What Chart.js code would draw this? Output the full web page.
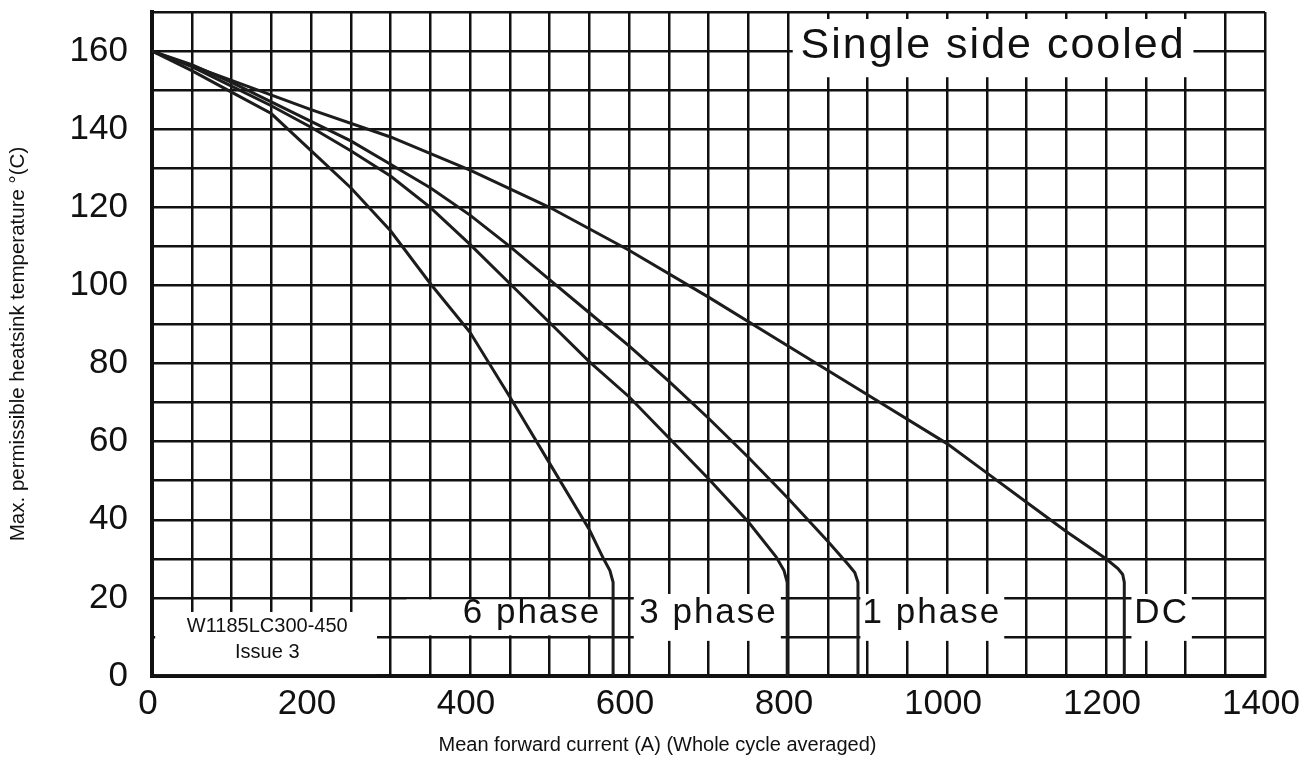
<!DOCTYPE html>
<html>
<head>
<meta charset="utf-8">
<script src="https://cdn.jsdelivr.net/npm/chart.js@4.4.1/dist/chart.umd.min.js"></script>
<style>
  html, body { margin: 0; padding: 0; background: #fff; }
  #wrap { width: 1315px; height: 776px; }
</style>
</head>
<body>
<div id="wrap"><canvas id="deratingChart"></canvas></div>
<script>
// mean forward current (A) against max heatsink temperature (C)
const sixPhaseI = [0, 50, 100, 150, 200, 250, 300, 350, 400, 450, 500, 550, 568, 576, 580, 580];
const sixPhaseT = [160, 155, 149.5, 144, 134.5, 125, 114, 100.5, 88, 71.5, 54.5, 37.5, 30, 27, 24, 0];

const threePhaseI = [0, 50, 100, 150, 200, 250, 300, 350, 400, 450, 500, 550, 600, 650, 700, 750, 785, 795, 799, 799];
const threePhaseT = [160, 156, 151, 146, 140.5, 134.5, 128, 120, 110.5, 100.5, 90.5, 80.5, 71.5, 61, 50.5, 39.5, 30.5, 27, 24, 0];

const onePhaseI = [0, 50, 100, 150, 200, 250, 300, 350, 400, 450, 500, 550, 600, 650, 700, 750, 800, 850, 876, 884, 888, 888];
const onePhaseT = [160, 156.5, 152, 147, 142, 137, 131, 125, 118, 110, 101.5, 93, 84.5, 75.5, 66, 56, 45.5, 34.5, 28.5, 26.5, 24, 0];

const dcI = [0, 100, 200, 300, 400, 500, 600, 700, 800, 900, 1000, 1050, 1100, 1150, 1200, 1215, 1221, 1223, 1223];
const dcT = [160, 152.5, 145, 138, 129.5, 120, 109, 97, 84.5, 72, 59.5, 52, 44.5, 37, 30, 27.5, 26, 24, 0];

const seriesNames = ['6 phase', '3 phase', '1 phase', 'DC'];
const xLabelStep = 200;
const yLabelStep = 20;
const yLabelMax = 160;

function toPoints(xs, ys) {
    return xs.map(function(x, i) { return { x: x, y: ys[i] }; });
}

const curves = [
    toPoints(sixPhaseI, sixPhaseT),
    toPoints(threePhaseI, threePhaseT),
    toPoints(onePhaseI, onePhaseT),
    toPoints(dcI, dcT)
];

const FONT = '"Liberation Sans", Arial, Helvetica, sans-serif';

// white patches over the grid, in data units
const patches = [
    { x0: 4, x1: 283, y0: 0.5, y1: 16.4 },
    { x0: 806, x1: 1310, y0: 153.3, y1: 168.2 },
    { x0: 320, x1: 576, y0: 10.4, y1: 19.6 },
    { x0: 606, x1: 791, y0: 9, y1: 21 },
    { x0: 891, x1: 1072, y0: 9, y1: 21 },
    { x0: 1232, x1: 1308, y0: 9, y1: 21 }
];

const notes = [
    { text: 'Single side cooled', x: 1058, y: 161.2, size: 43, spacing: 2 },
    { text: seriesNames[0], x: 478, y: 16, size: 35, spacing: 2 },
    { text: seriesNames[1], x: 700, y: 16, size: 35, spacing: 2 },
    { text: seriesNames[2], x: 981, y: 16, size: 35, spacing: 2 },
    { text: seriesNames[3], x: 1270, y: 16, size: 35, spacing: 2 },
    { text: 'W1185LC300-450', x: 145, y: 12.8, size: 20, spacing: 0 },
    { text: 'Issue 3', x: 145, y: 5.9, size: 20, spacing: 0 }
];

const labelPlugin = {
    id: 'labelPlugin',
    beforeDatasetsDraw(chart) {
        const ctx = chart.ctx, xs = chart.scales.x, ys = chart.scales.y;
        ctx.save();
        ctx.fillStyle = '#fff';
        patches.forEach(function(p) {
            const l = xs.getPixelForValue(p.x0), r = xs.getPixelForValue(p.x1);
            const t = ys.getPixelForValue(p.y1), b = ys.getPixelForValue(p.y0);
            ctx.fillRect(l, t, r - l, b - t);
        });
        ctx.restore();
    },
    afterDatasetsDraw(chart) {
        const ctx = chart.ctx, xs = chart.scales.x, ys = chart.scales.y;
        ctx.save();
        ctx.fillStyle = '#111';
        ctx.textAlign = 'center';
        ctx.textBaseline = 'middle';
        notes.forEach(function(n) {
            ctx.font = n.size + 'px ' + FONT;
            ctx.letterSpacing = n.spacing + 'px';
            ctx.fillText(n.text, xs.getPixelForValue(n.x), ys.getPixelForValue(n.y));
        });
        ctx.letterSpacing = '0px';
        // x axis title sits centred on the whole picture, not on the plot
        ctx.font = '20px ' + FONT;
        ctx.fillText('Mean forward current (A) (Whole cycle averaged)', chart.width / 2, 745);
        ctx.restore();
    }
};

const ctx = document.getElementById('deratingChart').getContext('2d');
new Chart(ctx, {
    type: 'line',
    data: {
        datasets: curves.map(function(pts, i) {
            return {
                label: seriesNames[i],
                data: pts,
                borderColor: '#1c1c1c',
                borderWidth: 3,
                pointRadius: 0,
                tension: 0,
                fill: false
            };
        })
    },
    options: {
        responsive: true,
        maintainAspectRatio: false,
        animation: false,
        layout: { padding: { top: 12, right: 50, left: 0, bottom: 0 } },
        scales: {
            x: {
                type: 'linear',
                min: 0,
                max: 1400,
                afterFit: function(scale) {
                    scale.height = 100;
                    scale.paddingLeft = 0;
                    scale.paddingRight = 0;
                },
                ticks: {
                    stepSize: 50,
                    autoSkip: false,
                    maxRotation: 0,
                    padding: 7,
                    labelOffset: -4,
                    color: '#111',
                    font: { family: FONT, size: 35 },
                    callback: function(v) { return v % xLabelStep === 0 ? v : ''; }
                },
                grid: { color: '#111', lineWidth: 2.5, drawTicks: false },
                border: { color: '#111', width: 4 }
            },
            y: {
                min: 0,
                max: 170,
                afterFit: function(scale) {
                    scale.width = 152;
                    scale.paddingTop = 0;
                    scale.paddingBottom = 0;
                },
                title: {
                    display: true,
                    text: 'Max. permissible heatsink temperature °(C)',
                    color: '#111',
                    font: { family: FONT, size: 20.5 },
                    padding: { top: 6, bottom: 0 }
                },
                ticks: {
                    stepSize: 10,
                    autoSkip: false,
                    padding: 24,
                    color: '#111',
                    font: { family: FONT, size: 35 },
                    callback: function(v) { return (v % yLabelStep === 0 && v <= yLabelMax) ? v : ''; }
                },
                grid: { color: '#111', lineWidth: 2.5, drawTicks: false },
                border: { color: '#111', width: 4 }
            }
        },
        plugins: {
            legend: { display: false },
            tooltip: { enabled: false }
        }
    },
    plugins: [labelPlugin]
});
</script>
</body>
</html>
